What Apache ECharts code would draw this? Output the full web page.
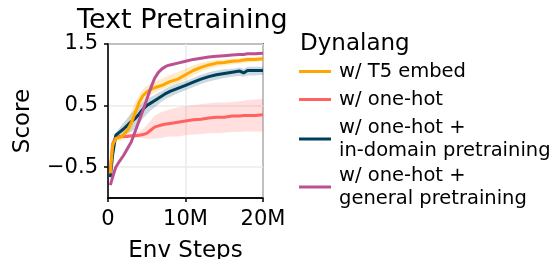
<!DOCTYPE html>
<html>
<head>
<meta charset="utf-8">
<script src="https://cdn.jsdelivr.net/npm/echarts@6/dist/echarts.min.js"></script>
<style>
  html, body { margin: 0; padding: 0; background: #fff; }
  #chart { width: 551px; height: 259px; }
</style>
</head>
<body>
<div id="chart"></div>
<script>
// env steps, in millions
const steps = [0.3, 0.6, 1, 1.5, 2, 2.5, 3, 3.5, 4, 4.5, 5, 5.5, 6, 6.5, 7, 7.5, 8, 9, 10, 11, 12, 13, 14, 15, 16, 17, 17.5, 18, 19, 20];

// mean score per run
const t5Embed = [-0.6, -0.15, -0.03, -0.02, 0.02, 0.1, 0.22, 0.38, 0.55, 0.66, 0.72, 0.76, 0.79, 0.81, 0.83, 0.86, 0.89, 0.93, 1.0, 1.07, 1.12, 1.16, 1.19, 1.2, 1.22, 1.23, 1.24, 1.25, 1.25, 1.26];
const oneHot = [-0.55, -0.12, -0.01, 0.0, 0.0, 0.0, 0.01, 0.01, 0.02, 0.03, 0.05, 0.1, 0.15, 0.17, 0.19, 0.2, 0.21, 0.23, 0.25, 0.27, 0.28, 0.3, 0.31, 0.31, 0.33, 0.33, 0.34, 0.34, 0.34, 0.35];
const inDomain = [-0.66, -0.3, 0.02, 0.07, 0.12, 0.18, 0.24, 0.29, 0.36, 0.44, 0.5, 0.54, 0.58, 0.62, 0.66, 0.7, 0.73, 0.78, 0.83, 0.88, 0.93, 0.97, 1.0, 1.02, 1.04, 1.06, 1.03, 1.07, 1.07, 1.07];
const general = [-0.79, -0.66, -0.5, -0.4, -0.31, -0.2, -0.09, 0.08, 0.25, 0.42, 0.6, 0.78, 0.94, 1.04, 1.1, 1.14, 1.16, 1.19, 1.22, 1.25, 1.27, 1.29, 1.3, 1.31, 1.32, 1.33, 1.33, 1.34, 1.34, 1.35];

// shaded spread (lower / upper)
const t5Lo = [-0.62, -0.2, -0.06, -0.08, -0.06, 0.0, 0.1, 0.24, 0.42, 0.55, 0.62, 0.67, 0.71, 0.74, 0.76, 0.79, 0.82, 0.86, 0.92, 0.99, 1.05, 1.1, 1.13, 1.15, 1.17, 1.18, 1.19, 1.2, 1.21, 1.22];
const t5Hi = [-0.55, -0.1, 0.02, 0.05, 0.12, 0.24, 0.4, 0.55, 0.67, 0.76, 0.82, 0.86, 0.89, 0.92, 0.94, 0.97, 1.0, 1.04, 1.1, 1.15, 1.19, 1.22, 1.24, 1.25, 1.26, 1.27, 1.28, 1.29, 1.29, 1.3];
const oneHotLo = [-0.56, -0.14, -0.02, -0.02, -0.02, -0.02, -0.02, -0.02, -0.02, -0.03, -0.04, -0.04, -0.04, -0.03, -0.02, -0.01, 0.0, 0.0, 0.02, 0.03, 0.04, 0.05, 0.05, 0.06, 0.07, 0.07, 0.08, 0.08, 0.08, 0.08];
const oneHotHi = [-0.54, -0.1, 0.0, 0.02, 0.02, 0.03, 0.04, 0.06, 0.08, 0.12, 0.18, 0.26, 0.33, 0.37, 0.4, 0.42, 0.44, 0.47, 0.49, 0.51, 0.52, 0.54, 0.55, 0.55, 0.56, 0.57, 0.58, 0.59, 0.6, 0.61];
const inDomainLo = [-0.7, -0.35, -0.02, 0.0, 0.02, 0.05, 0.08, 0.12, 0.19, 0.29, 0.36, 0.42, 0.47, 0.52, 0.57, 0.61, 0.64, 0.7, 0.75, 0.8, 0.85, 0.89, 0.92, 0.95, 0.97, 0.98, 0.97, 0.99, 0.99, 1.0];
const inDomainHi = [-0.6, -0.25, 0.06, 0.14, 0.22, 0.3, 0.38, 0.44, 0.5, 0.56, 0.61, 0.64, 0.67, 0.71, 0.74, 0.78, 0.81, 0.86, 0.9, 0.95, 1.0, 1.04, 1.07, 1.09, 1.1, 1.12, 1.1, 1.13, 1.13, 1.13];

const xTicks = [0, 10, 20];
const yTicks = [-0.5, 0.5, 1.5];

const names = [
  "w/ T5 embed",
  "w/ one-hot",
  "w/ one-hot +\nin-domain pretraining",
  "w/ one-hot +\ngeneral pretraining"
];
const colors = ["#ffa600", "#ff6361", "#003f5c", "#bc5090"];

const font = "DejaVu Sans";

function band(lo, hi, fill) {
  return {
    type: "custom",
    silent: true,
    z: 1,
    data: [[0, 0]],
    renderItem(params, api) {
      const points = steps.map((x, i) => api.coord([x, hi[i]]));
      for (let i = steps.length - 1; i >= 0; i--) {
        points.push(api.coord([steps[i], lo[i]]));
      }
      return { type: "polygon", shape: { points }, style: { fill } };
    }
  };
}

function line(name, values, color, z) {
  return {
    name,
    type: "line",
    z,
    data: steps.map((x, i) => [x, values[i]]),
    showSymbol: false,
    symbol: "none",
    color,
    lineStyle: { color, width: 3 },
    animation: false
  };
}

const legendTops = [60, 88, 116, 164];

const chart = echarts.init(document.getElementById("chart"));
chart.setOption({
  animation: false,
  title: [
    {
      text: "Text Pretraining",
      left: 77,
      top: 7,
      padding: 0,
      textStyle: { fontFamily: font, fontSize: 27, fontWeight: "normal", color: "#000" }
    },
    {
      text: "Dynalang",
      left: 300,
      top: 33,
      padding: 0,
      textStyle: { fontFamily: font, fontSize: 23, fontWeight: "normal", color: "#000" }
    }
  ],
  legend: names.map((n, i) => ({
    data: [n],
    orient: "vertical",
    left: 299,
    top: legendTops[i],
    padding: 0,
    icon: "rect",
    itemWidth: 32,
    itemHeight: 3,
    selectedMode: false,
    textStyle: {
      fontFamily: font,
      fontSize: 19.5,
      lineHeight: 23,
      color: "#000",
      padding: [0, 0, 0, 3]
    }
  })),
  grid: {
    left: 108,
    top: 44,
    width: 155,
    height: 154,
    outerBoundsMode: "none",
    containLabel: false,
    show: true,
    borderColor: "#000",
    borderWidth: 1.5,
    backgroundColor: "transparent"
  },
  xAxis: {
    type: "value",
    min: 0,
    max: 20,
    interval: 5,
    name: "Env Steps",
    nameLocation: "middle",
    nameGap: 42,
    nameTextStyle: { fontFamily: font, fontSize: 23, color: "#000" },
    axisLine: { onZero: false, lineStyle: { color: "#000", width: 1.5 } },
    axisTick: { customValues: xTicks, length: 4, lineStyle: { color: "#000", width: 1.5 } },
    axisLabel: {
      customValues: xTicks,
      fontFamily: font,
      fontSize: 21,
      color: "#000",
      margin: 11,
      formatter: v => (v === 0 ? "0" : v + "M")
    },
    splitLine: { show: true, lineStyle: { color: "#ebebeb", width: 1.5 } }
  },
  yAxis: {
    type: "value",
    min: -1,
    max: 1.5,
    interval: 0.5,
    name: "Score",
    nameLocation: "middle",
    nameGap: 73,
    nameTextStyle: { fontFamily: font, fontSize: 23, color: "#000" },
    axisLine: { show: true, onZero: false, lineStyle: { color: "#000", width: 1.5 } },
    axisTick: { show: true, customValues: yTicks, length: 4, lineStyle: { color: "#000", width: 1.5 } },
    axisLabel: {
      customValues: yTicks,
      fontFamily: font,
      fontSize: 21,
      color: "#000",
      margin: 10,
      formatter: v => (v < 0 ? "\u2212" + Math.abs(v) : String(v))
    },
    splitLine: { show: true, lineStyle: { color: "#ebebeb", width: 1.5 } }
  },
  series: [
    band(oneHotLo, oneHotHi, "rgba(255,99,97,0.2)"),
    band(inDomainLo, inDomainHi, "rgba(0,63,92,0.2)"),
    band(t5Lo, t5Hi, "rgba(255,166,0,0.22)"),
    line(names[1], oneHot, colors[1], 3),
    line(names[2], inDomain, colors[2], 4),
    line(names[0], t5Embed, colors[0], 5),
    line(names[3], general, colors[3], 6)
  ]
});
</script>
</body>
</html>
